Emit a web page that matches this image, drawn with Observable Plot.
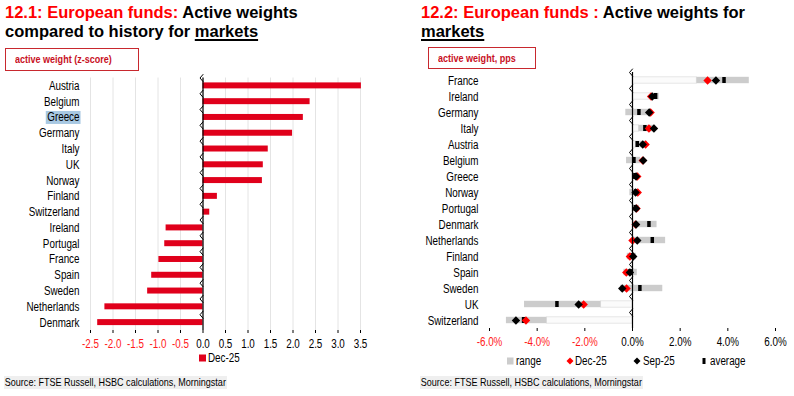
<!DOCTYPE html>
<html>
<head>
<meta charset="utf-8">
<script src="https://cdn.jsdelivr.net/npm/d3@7"></script>
<script src="https://cdn.jsdelivr.net/npm/@observablehq/plot@0.6"></script>
<style>
  html, body { margin: 0; padding: 0; background: #fff; }
  body { width: 794px; height: 396px; position: relative; overflow: hidden;
         font-family: "Liberation Sans", Arial, sans-serif; }
  .title { position: absolute; top: 3px; font-weight: bold; font-size: 16.5px; line-height: 19px;
           color: #000; white-space: nowrap; }
  .title .red { color: #ff0000; }
  .title u { text-decoration-thickness: 1.5px; text-underline-offset: 2px; }
  .n { display: inline-block; transform: scaleX(0.82); transform-origin: 0 50%; white-space: nowrap; }
  .n2 { display: inline-block; transform: scaleX(0.787); transform-origin: 0 50%; white-space: nowrap; }
  .box { position: absolute; border: 1.5px solid #c8282e; box-sizing: border-box; color: #c8101e;
         font-weight: bold; font-size: 11px; line-height: 20px; padding-left: 9px; white-space: nowrap; }
  .chart { position: absolute; top: 64px; }
  .leg { position: absolute; font-size: 12.5px; line-height: 14px; white-space: nowrap; color: #000;
         display: flex; align-items: center; }
  .src { position: absolute; top: 376px; height: 13px; font-size: 11px; line-height: 13px; background: #efefef;
         white-space: nowrap; color: #000; }
</style>
</head>
<body>
<div class="title" style="left:5px"><span class="red">12.1: European funds:</span> Active weights<br>compared to history for <u>markets</u></div>
<div class="title" style="left:421px"><span class="red">12.2: European funds :</span> Active weights for<br><u>markets</u></div>
<div class="box" style="left:5px;top:48px;width:134px;height:23px"><span class="n">active weight (z-score)</span></div>
<div class="box" style="left:428px;top:47px;width:108px;height:22px"><span class="n">active weight, pps</span></div>
<div id="left" class="chart" style="left:0px"></div>
<div id="right" class="chart" style="left:397px"></div>
<div id="legL"></div>
<div id="legR"></div>
<div class="src" style="left:4px;width:223px"><span class="n" style="padding-left:1px">Source: FTSE Russell, HSBC calculations, Morningstar</span></div>
<div class="src" style="left:420px;width:223px"><span class="n" style="padding-left:1px">Source: FTSE Russell, HSBC calculations, Morningstar</span></div>
<script>
// ---------- Data: chart 12.1 ----------
const leftCountries = ["Austria","Belgium","Greece","Germany","Italy","UK","Norway","Finland","Switzerland","Ireland","Portugal","France","Spain","Sweden","Netherlands","Denmark"];
const leftValues = [3.52,2.38,2.23,1.99,1.45,1.34,1.32,0.32,0.15,-0.82,-0.85,-0.98,-1.14,-1.23,-2.18,-2.34];
const leftTicks = [-2.5,-2.0,-1.5,-1.0,-0.5,0.0,0.5,1.0,1.5,2.0,2.5,3.0,3.5];
const leftSeries = "Dec-25";

// ---------- Data: chart 12.2 ----------
const rightCountries = ["France","Ireland","Germany","Italy","Austria","Belgium","Greece","Norway","Portugal","Denmark","Netherlands","Finland","Spain","Sweden","UK","Switzerland"];
const rangeMin = [2.70,0.76,-0.28,0.27,0.13,-0.25,0.02,-0.11,0.02,0.00,0.00,-0.22,-0.36,-0.50,-4.53,-5.29];
const rangeMax = [4.90,1.12,0.76,0.97,0.62,0.34,0.30,0.27,0.30,1.03,1.39,0.17,0.20,1.27,-1.32,-3.59];
const dec25 = [3.15,0.78,0.76,0.69,0.55,0.43,0.20,0.22,0.17,0.13,0.00,-0.11,-0.26,-0.25,-2.05,-4.47];
const sep25 = [3.50,0.83,0.70,0.90,0.43,0.45,0.15,0.13,0.15,0.15,0.20,0.03,-0.11,-0.43,-2.26,-4.89];
const average = [3.84,0.97,0.27,0.52,0.20,0.06,0.10,0.15,0.12,0.69,0.83,0.00,-0.10,0.31,-3.17,-4.57];
const rightTicks = [-6,-4,-2,0,2,4,6];
const rightSeries = ["range","Dec-25","Sep-25","average"];

// ---------- Styles ----------
const FONT = '"Liberation Sans", Arial, sans-serif';
const FS = 12.5;
const NARROW_RATIO = 0.787;
const BAR_RED = "#e0001b";
const NEG_RED = "#ff1a1a";
const DIAMOND_RED = "#ff0000";
const RANGE_GREY = "#cccccc";

function narrowTexts(svg) {
  for (const t of svg.querySelectorAll("text")) {
    const len = t.getComputedTextLength();
    if (len > 0) {
      t.setAttribute("textLength", (len * NARROW_RATIO).toFixed(2));
      t.setAttribute("lengthAdjust", "spacingAndGlyphs");
    }
  }
}

// ---------- Chart 12.1 ----------
const leftData = leftCountries.map((c, i) => ({country: c, value: leftValues[i]}));
const lH = 292, lTop = 13.5, lBottom = 26;
const lStep = (lH - lTop - lBottom) / leftCountries.length;
const leftPlot = Plot.plot({
  width: 397, height: lH,
  marginTop: lTop, marginBottom: lBottom, marginLeft: 90, marginRight: 37,
  style: {fontFamily: FONT, fontSize: FS + "px", color: "#000", background: "transparent", overflow: "visible"},
  x: {domain: [-2.5, 3.5], label: null},
  y: {domain: leftCountries, padding: 0, round: false, label: null},
  marks: [
    Plot.gridX(leftTicks, {stroke: "#e4e4e4", strokeOpacity: 1}),
    Plot.barX(leftData, {x: "value", y: "country", fill: BAR_RED, insetTop: 4.9, insetBottom: 4.9}),
    Plot.ruleY([0], {frameAnchor: "bottom", stroke: "#000"}),
    Plot.ruleX([0], {stroke: "#000", strokeWidth: 1.2}),
    Plot.vector(leftCountries, {x: 0, y: d => d, length: 3, rotate: -90, anchor: "start", shape: "spike", stroke: "#000", strokeWidth: 1, dy: -lStep / 2}),
    Plot.axisX(leftTicks, {tickFormat: d => d.toFixed(1), tickSize: 3, tickPadding: 6, fill: d => d < 0 ? NEG_RED : "#000", fontSize: FS, label: null}),
    Plot.axisY({tickSize: 0, tickPadding: 11, fontSize: FS, fill: "#000", label: null})
  ]
});
document.getElementById("left").appendChild(leftPlot);

// Greece label highlight (selection in reference)
for (const t of leftPlot.querySelectorAll("text")) {
  if (t.textContent === "Greece") {
    const b = t.getBBox();
    const w = t.getComputedTextLength() * NARROW_RATIO;
    const r = document.createElementNS("http://www.w3.org/2000/svg", "rect");
    r.setAttribute("x", b.x + b.width - w - 1.5); r.setAttribute("y", b.y + 0.5);
    r.setAttribute("width", w + 2.5); r.setAttribute("height", b.height - 1);
    r.setAttribute("fill", "#a8c8e2");
    if (t.getAttribute("transform")) r.setAttribute("transform", t.getAttribute("transform"));
    t.parentNode.insertBefore(r, t);
  }
}
narrowTexts(leftPlot);

// ---------- Chart 12.2 ----------
const rightData = rightCountries.map((c, i) => ({
  country: c, min: rangeMin[i], max: rangeMax[i], dec: dec25[i], sep: sep25[i], avg: average[i]
}));
const baseData = rightData.filter(d => d.min > 0 || d.max < 0)
  .map(d => ({country: d.country, end: d.min > 0 ? d.min : d.max}));
const rH = 290, rTop = 8, rBottom = 26;
const rStep = (rH - rTop - rBottom) / rightCountries.length;
const rightPlot = Plot.plot({
  width: 397, height: rH,
  marginTop: rTop, marginBottom: rBottom, marginLeft: 92, marginRight: 19,
  style: {fontFamily: FONT, fontSize: FS + "px", color: "#000", background: "transparent", overflow: "visible"},
  x: {domain: [-6, 6], label: null},
  y: {domain: rightCountries, padding: 0, round: false, label: null},
  marks: [
    Plot.barX(baseData, {x1: 0, x2: "end", y: "country", fill: "#fbfbfb", stroke: "#e6e6e6", strokeWidth: 1, insetTop: 4.8, insetBottom: 4.8}),
    Plot.barX(rightData, {x1: "min", x2: "max", y: "country", fill: RANGE_GREY, insetTop: 4.8, insetBottom: 4.8}),
    Plot.tickX(rightData, {x: "avg", y: "country", stroke: "#000", strokeWidth: 3.5, insetTop: 5, insetBottom: 5}),
    Plot.dot(rightData, {x: "dec", y: "country", symbol: "diamond2", r: 3.8, fill: DIAMOND_RED, stroke: "none"}),
    Plot.dot(rightData, {x: "sep", y: "country", symbol: "diamond2", r: 3.8, fill: "#000", stroke: "none"}),
    Plot.ruleY([0], {frameAnchor: "bottom", stroke: "#000"}),
    Plot.ruleX([0], {stroke: "#000", strokeWidth: 1.2}),
    Plot.vector(rightCountries, {x: 0, y: d => d, length: 3, rotate: -90, anchor: "start", shape: "spike", stroke: "#000", strokeWidth: 1, dy: -rStep / 2}),
    Plot.axisX(rightTicks, {tickFormat: d => d.toFixed(1) + "%", tickSize: 3, tickPadding: 6, fill: d => d < 0 ? NEG_RED : "#000", fontSize: FS, label: null}),
    Plot.axisY({tickSize: 0, tickPadding: 11, fontSize: FS, fill: "#000", label: null})
  ]
});
document.getElementById("right").appendChild(rightPlot);
narrowTexts(rightPlot);

// ---------- Legends ----------
const legL = document.getElementById("legL");
legL.innerHTML = `<div class="leg" style="left:199px;top:351px"><svg width="9" height="8"><rect x="0" y="0.5" width="7" height="7" fill="${BAR_RED}"/></svg><span class="n2">${leftSeries}</span></div>`;
const legR = document.getElementById("legR");
const sw = {
  "range": `<svg width="9" height="8"><rect x="0" y="0.5" width="6.5" height="7" fill="${RANGE_GREY}"/></svg>`,
  "Dec-25": `<svg width="9" height="8"><path d="M4,0.5L7.5,4L4,7.5L0.5,4Z" fill="${DIAMOND_RED}"/></svg>`,
  "Sep-25": `<svg width="10" height="8"><path d="M4,0.5L7.5,4L4,7.5L0.5,4Z" fill="#000"/></svg>`,
  "average": `<svg width="8" height="8"><rect x="0.5" y="1" width="3" height="6" fill="#000"/></svg>`
};
const legLeft = [507, 566, 633, 702];
legR.innerHTML = rightSeries.map((s, i) =>
  `<div class="leg" style="left:${legLeft[i]}px;top:354px">${sw[s]}<span class="n2">${s}</span></div>`).join("");
</script>
</body>
</html>
